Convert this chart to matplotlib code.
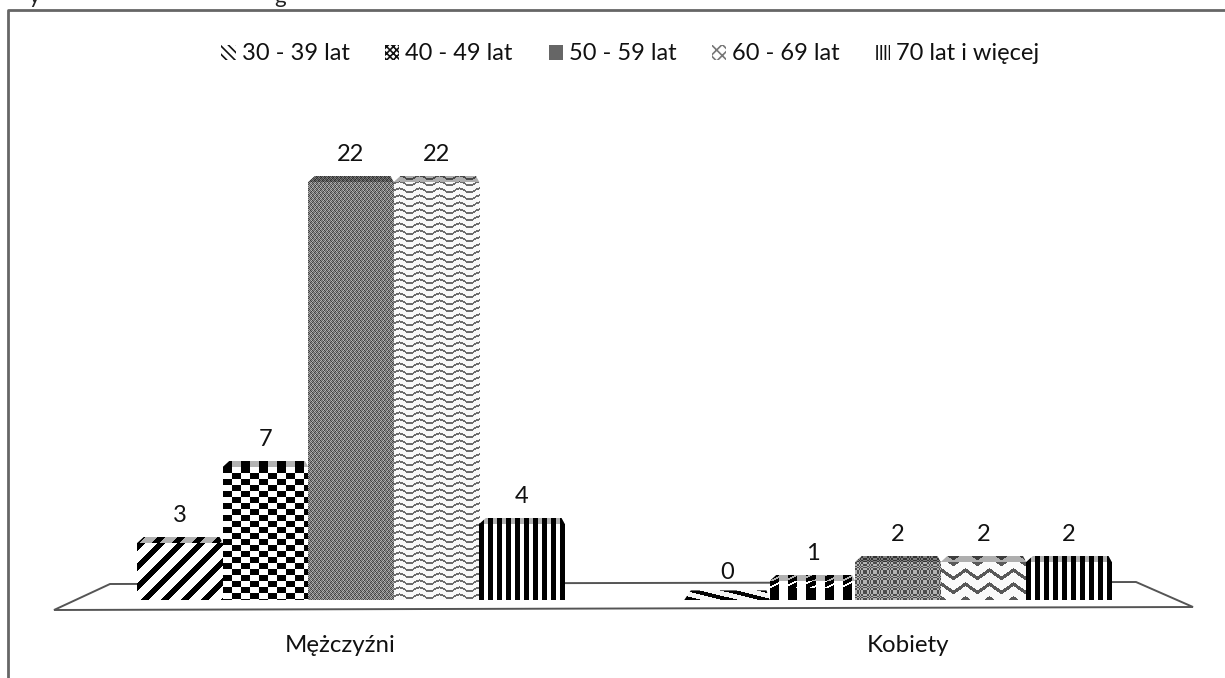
"""
plot.py
-------
Grouped pseudo-3D bar chart of age groups by sex, with patterned bars.
"""

import numpy as np
import matplotlib
matplotlib.use("Agg")
import matplotlib.pyplot as plt
from matplotlib.patches import Patch, Polygon

# ---------------------------------------------------------------------------
# Data
# ---------------------------------------------------------------------------

CATEGORIES = ["Mężczyźni", "Kobiety"]
AGE_GROUPS = ["30 - 39 lat", "40 - 49 lat", "50 - 59 lat", "60 - 69 lat", "70 lat i więcej"]
MEN = [3, 7, 22, 22, 4]
WOMEN = [0, 1, 2, 2, 2]

# ---------------------------------------------------------------------------
# Config
# ---------------------------------------------------------------------------

W, H = 1225, 678
BASE_PX = 600          # pixel row of value 0
PX_PER_UNIT = 19.0
CENTERS_PX = (351, 898)
LABEL_PX = (340.5, 908)
BAR_PX = 85.5
CAP_PX = 6

MEN_PATTERNS = ["diag", "checker", "gray", "wave", "vstripe"]
WOMEN_PATTERNS = ["flat", "blocks", "dark", "zigzag", "vstripe"]
LEGEND_HATCH = ["\\\\\\\\", "XXXXX", "", "xxx", "||||"]
LEGEND_FILL = ["white", "white", "#666666", "white", "white"]
LEGEND_EDGE = ["#111111", "#111111", "#666666", "#777777", "#111111"]


def texture(name, w, h):
    """Grey level array (h, w) for a named fill pattern, row 0 at the top."""
    y, x = np.mgrid[0:h, 0:w]
    if name == "diag":
        return ((x + y) % 20 > 7).astype(float)
    if name == "flat":
        return (((x - 4 * y) % 36) > 15).astype(float) * 0.95
    if name == "checker":
        return (((x // 9) + (y // 6)) % 2).astype(float)
    if name == "blocks":
        return ((x % 18 > 8) | (y < 7) & ((x + 2 * y) % 14 > 9)).astype(float)
    if name == "gray":
        return 0.26 + 0.30 * ((x + y) % 2) + 0.14 * ((x // 2 + y // 3) % 2)
    if name == "dark":
        return 0.30 + 0.40 * (((x // 2 + y // 2) % 2) ^ ((x // 5 - y // 5) % 2))
    if name == "wave":
        yy = y + 2.0 * np.sin(2 * np.pi * x / 20)
        return np.where(yy % 7 < 2.0, 0.42, 0.97)
    if name == "zigzag":
        yy = y + np.abs((x % 24) - 12) * 0.7
        return np.where(yy % 14 < 4, 0.35, 0.98)
    if name == "vstripe":
        return (x % 9 > 4).astype(float)
    return np.ones((h, w))


def fill_patch(ax, patch, name, x0, x1, y0, y1, zorder):
    """Paint a texture over a data-space box, clipped to the given patch."""
    w = max(int(round((x1 - x0) * (CENTERS_PX[1] - CENTERS_PX[0]))), 1)
    h = max(int(round((y1 - y0) * PX_PER_UNIT)), 1)
    im = ax.imshow(
        texture(name, w, h), cmap="gray", vmin=0, vmax=1, aspect="auto",
        extent=(x0, x1, y0, y1), interpolation="nearest", zorder=zorder,
    )
    im.set_clip_path(patch)


# ---------------------------------------------------------------------------
# Figure
# ---------------------------------------------------------------------------

plt.rcParams["font.family"] = ["Lato", "DejaVu Sans"]
plt.rcParams["hatch.linewidth"] = 1.2

fig = plt.figure(figsize=(W / 100, H / 100), dpi=100, facecolor="white")
ax = fig.add_axes([0, 1 - BASE_PX / H, 1, BASE_PX / H])

unit_px = CENTERS_PX[1] - CENTERS_PX[0]
ax.set_xlim(-CENTERS_PX[0] / unit_px, (W - CENTERS_PX[0]) / unit_px)
ax.set_ylim(0, BASE_PX / PX_PER_UNIT)
ax.set_autoscale_on(False)
for spine in ax.spines.values():
    spine.set_visible(False)
ax.set_yticks([])
ticks = [(p - CENTERS_PX[0]) / unit_px for p in LABEL_PX]
ax.set_xticks(ticks, CATEGORIES, fontsize=17.3, color="#111111")
ax.tick_params(axis="x", length=0, pad=25)


def px(x, y):
    return x / W, 1 - y / H


# frame and floor of the 3D plot area
fig.add_artist(plt.Line2D(*zip(px(8, 678), px(8, 10), px(1225, 10)),
                          color="#666666", lw=2.0))
floor = Polygon([px(54, 610), px(110, 584), px(1136, 582), px(1193, 607)],
                closed=True, facecolor="white", edgecolor="#555555", lw=1.4,
                transform=fig.transFigure, zorder=1, clip_on=False)
ax.add_patch(floor)

width = BAR_PX / unit_px
n_groups = len(AGE_GROUPS)
cap = CAP_PX / PX_PER_UNIT

for col, values in enumerate([MEN, WOMEN]):
    patterns = MEN_PATTERNS if col == 0 else WOMEN_PATTERNS
    offsets = col + (np.arange(n_groups) - (n_groups - 1) / 2) * width
    bars = ax.bar(offsets, values, width=width, color="white", zorder=3)
    ax.bar_label(bars, padding=12, fontsize=17, color="#111111", zorder=6)
    for bar, value, name in zip(bars, values, patterns):
        x0, x1 = bar.get_x(), bar.get_x() + bar.get_width()
        if value > 0:
            fill_patch(ax, bar, name, x0, x1, 0, value, 3)
        depth = cap if value > 0 else 1.6 * cap
        top = Polygon(
            [(x0, value), (x0 + 0.012, value + depth),
             (x1 - 0.006, value + depth), (x1, value)],
            closed=True, facecolor="none", edgecolor="none", zorder=4,
        )
        ax.add_patch(top)
        fill_patch(ax, top, name, x0, x1, value, value + depth, 4)
        if value > 0:
            ax.add_patch(Polygon(top.get_xy(), closed=True, facecolor="black",
                                 alpha=0.3, edgecolor="none", zorder=5))

handles = [Patch(facecolor=f, edgecolor=e, linewidth=0, hatch=h)
           for f, e, h in zip(LEGEND_FILL, LEGEND_EDGE, LEGEND_HATCH)]
ax.legend(
    handles, AGE_GROUPS, ncol=n_groups, frameon=False, fontsize=17,
    loc="center", bbox_to_anchor=(0.5145, 1 - 54 / BASE_PX),
    handlelength=0.6, handleheight=0.6, handletextpad=0.25, columnspacing=1.52,
    labelcolor="#111111",
)

# fragments of the caption cut off by the top edge of the scan
fig.text(35 / W, 1 - 3 / H, "y", fontsize=16, color="#222222", ha="center", va="baseline")
fig.text(280 / W, 1 - 3 / H, "g", fontsize=16, color="#222222", ha="center", va="baseline")

fig.savefig("out.png", dpi=100)
plt.close(fig)
